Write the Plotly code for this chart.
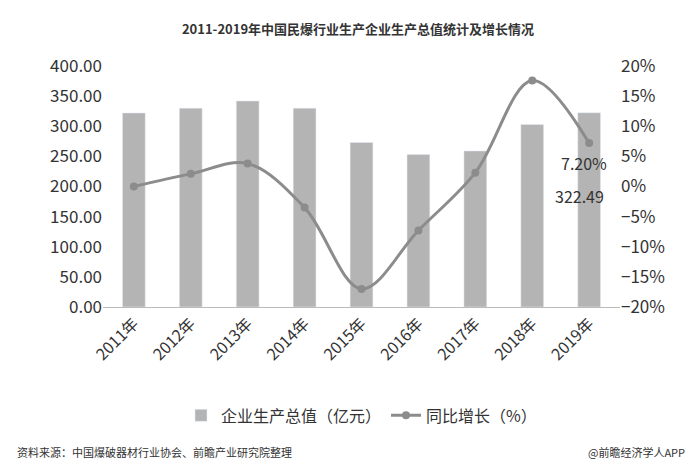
import plotly.graph_objects as go

years = ["2011年", "2012年", "2013年", "2014年", "2015年", "2016年", "2017年", "2018年", "2019年"]
output = [322, 330, 342, 330, 273, 253, 259, 303, 322.49]
growth = [0.0, 2.1, 3.8, -3.5, -17.0, -7.3, 2.3, 17.6, 7.2]

fig = go.Figure()
fig.add_trace(go.Bar(
    x=years, y=output, name="企业生产总值（亿元）",
    marker_color="#b4b4b4", width=0.4,
))
fig.add_trace(go.Scatter(
    x=years, y=growth, name="同比增长（%）", yaxis="y2",
    mode="lines+markers", line=dict(color="#8c8c8c", width=3, shape="spline"),
    marker=dict(size=8, color="#8c8c8c"),
))
fig.add_annotation(x=years[-1], y=growth[-1], yref="y2", text="7.20%",
                   showarrow=False, xshift=-5, yshift=-20,
                   font=dict(size=16, color="#333"))
fig.add_annotation(x=years[-1], y=185, text=f"{output[-1]:.2f}",
                   showarrow=False, xshift=-10,
                   font=dict(size=16, color="#333"))

fig.update_layout(
    width=700, height=469,
    paper_bgcolor="white", plot_bgcolor="white",
    margin=dict(l=95, r=88, t=58, b=170),
    font=dict(family="Noto Sans CJK SC", color="#333"),
    title=dict(text="<b>2011-2019年中国民爆行业生产企业生产总值统计及增长情况</b>",
               x=0.5, y=0.965, xanchor="center", font=dict(size=13, color="#333")),
    xaxis=dict(tickangle=-45, tickfont=dict(size=16), showline=True,
               linecolor="#bbb", ticks=""),
    yaxis=dict(range=[0, 400], dtick=50, tickformat=".2f", tickfont=dict(size=17),
               showgrid=False, zeroline=False),
    yaxis2=dict(range=[-20, 20], dtick=5, ticksuffix="%", overlaying="y", side="right",
                tickfont=dict(size=17), showgrid=False, zeroline=False),
    legend=dict(orientation="h", x=0.5, xanchor="center", y=-0.45, yanchor="middle",
                font=dict(size=16)),
    bargap=0.5,
)
fig.add_annotation(text="资料来源：中国爆破器材行业协会、前瞻产业研究院整理", xref="paper", yref="paper",
                   x=-0.17, y=-0.6, xanchor="left", yanchor="middle", showarrow=False,
                   font=dict(size=11, color="#333"))
fig.add_annotation(text="@前瞻经济学人APP", xref="paper", yref="paper",
                   x=1.13, y=-0.6, xanchor="right", yanchor="middle", showarrow=False,
                   font=dict(size=11, color="#333"))

fig.write_html("out.html")
